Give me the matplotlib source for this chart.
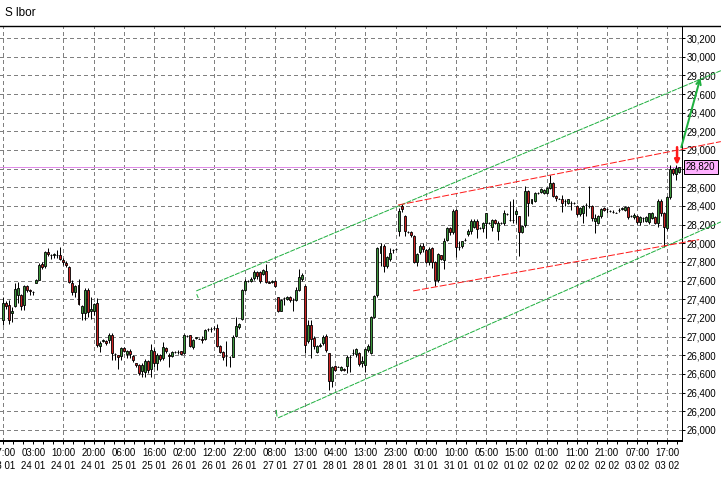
import matplotlib
matplotlib.use("Agg")
import matplotlib.pyplot as plt
import matplotlib.transforms as mtransforms
from matplotlib.lines import Line2D
from matplotlib.ticker import MultipleLocator
import numpy as np

plt.rcParams['font.family'] = ['Liberation Sans', 'DejaVu Sans']

# ---------------- data ----------------
title = "S lbor"

opens = [
    27.18, 27.36, 27.34, 27.25, 27.33, 27.45, 27.45, 27.34, 27.54, 27.50,
    27.48, 27.58, 27.61, 27.78, 27.76, 27.91, 27.88, 27.87, 27.88, 27.87,
    27.82, 27.79, 27.75, 27.58, 27.48, 27.55, 27.25, 27.25, 27.50, 27.27,
    27.27, 27.36, 26.90, 26.95, 26.95, 26.96, 27.02, 26.81, 26.80, 26.79,
    26.88, 26.81, 26.85, 26.79, 26.72, 26.70, 26.63, 26.62, 26.74, 26.65,
    26.85, 26.72, 26.80, 26.77, 26.88, 26.80, 26.79, 26.84, 26.84, 26.85,
    26.82, 27.01, 27.02, 26.89, 26.99, 26.98, 26.97, 26.97, 27.08, 27.08,
    27.09, 27.09, 26.90, 26.84, 26.79, 26.78, 26.78, 27.01, 27.10, 27.19,
    27.50, 27.60, 27.60, 27.63, 27.69, 27.69, 27.67, 27.70, 27.59, 27.59,
    27.60, 27.42, 27.28, 27.41, 27.40, 27.43, 27.39, 27.39, 27.50, 27.62,
    27.54, 26.95, 27.13, 26.99, 26.84, 26.90, 26.93, 27.01, 26.82, 26.53,
    26.69, 26.68, 26.64, 26.65, 26.69, 26.78, 26.83, 26.81, 26.82, 26.72,
    26.70, 26.86, 26.82, 27.21, 27.45, 27.90, 27.97, 27.76, 27.83, 27.93,
    27.94, 28.13, 28.40, 28.29, 28.12, 28.12, 28.08, 27.80, 27.91, 27.97,
    27.93, 27.80, 27.95, 27.80, 27.61, 27.87, 27.82, 28.04, 28.16, 28.12,
    28.36, 27.96, 27.97, 28.04, 28.10, 28.13, 28.17, 28.24, 28.16, 28.16,
    28.22, 28.22, 28.18, 28.25, 28.13, 28.22, 28.22, 28.31, 28.25, 28.25,
    28.31, 28.29, 28.12, 28.20, 28.56, 28.43, 28.45, 28.54, 28.55, 28.54,
    28.54, 28.59, 28.65, 28.51, 28.48, 28.48, 28.45, 28.43, 28.43, 28.43,
    28.40, 28.31, 28.33, 28.41, 28.40, 28.40, 28.24, 28.22, 28.29, 28.38,
    28.37, 28.35, 28.34, 28.33, 28.36, 28.37, 28.36, 28.39, 28.29, 28.28,
    28.29, 28.23, 28.27, 28.24, 28.23, 28.27, 28.28, 28.22, 28.45, 28.32,
    28.16, 28.50, 28.80, 28.74, 28.76,
]
highs = [
    27.43, 27.38, 27.39, 27.32, 27.57, 27.59, 27.46, 27.55, 27.55, 27.51,
    27.49, 27.62, 27.79, 27.80, 27.92, 27.95, 27.89, 27.90, 27.93, 27.96,
    27.84, 27.81, 27.76, 27.61, 27.55, 27.62, 27.34, 27.52, 27.52, 27.43,
    27.36, 27.41, 26.95, 26.97, 26.96, 27.04, 27.04, 26.83, 26.80, 26.89,
    26.89, 26.86, 26.87, 26.80, 26.72, 26.71, 26.72, 26.76, 26.75, 26.92,
    26.88, 26.82, 26.81, 26.94, 26.89, 26.83, 26.85, 26.85, 26.86, 26.85,
    27.03, 27.02, 27.02, 26.97, 27.00, 26.99, 27.01, 27.08, 27.09, 27.10,
    27.11, 27.14, 26.91, 26.85, 26.95, 26.79, 27.02, 27.21, 27.15, 27.51,
    27.62, 27.61, 27.64, 27.71, 27.70, 27.70, 27.73, 27.78, 27.60, 27.61,
    27.61, 27.43, 27.40, 27.43, 27.44, 27.44, 27.41, 27.53, 27.72, 27.68,
    27.55, 27.18, 27.18, 27.01, 26.91, 26.93, 27.02, 27.03, 26.83, 26.69,
    26.70, 26.69, 26.69, 26.66, 26.80, 26.80, 26.87, 26.88, 26.84, 26.79,
    26.88, 26.92, 27.22, 27.45, 27.96, 28.00, 27.99, 27.86, 27.95, 27.94,
    27.95, 28.38, 28.42, 28.30, 28.13, 28.13, 28.09, 27.90, 27.99, 28.00,
    27.94, 27.96, 27.96, 27.81, 27.90, 27.88, 28.06, 28.18, 28.18, 28.37,
    28.37, 28.02, 28.03, 28.06, 28.15, 28.26, 28.26, 28.26, 28.17, 28.23,
    28.33, 28.23, 28.26, 28.26, 28.24, 28.23, 28.36, 28.32, 28.45, 28.47,
    28.37, 28.29, 28.20, 28.61, 28.57, 28.48, 28.55, 28.55, 28.59, 28.58,
    28.60, 28.73, 28.66, 28.52, 28.49, 28.52, 28.47, 28.48, 28.45, 28.44,
    28.41, 28.39, 28.41, 28.43, 28.61, 28.41, 28.31, 28.30, 28.38, 28.39,
    28.38, 28.36, 28.36, 28.34, 28.38, 28.39, 28.40, 28.40, 28.30, 28.32,
    28.30, 28.29, 28.28, 28.29, 28.33, 28.34, 28.29, 28.47, 28.47, 28.34,
    28.51, 28.84, 28.81, 28.84, 28.82,
]
lows = [
    27.12, 27.30, 27.14, 27.16, 27.32, 27.36, 27.29, 27.29, 27.48, 27.45,
    27.45, 27.57, 27.61, 27.73, 27.74, 27.86, 27.83, 27.84, 27.84, 27.82,
    27.77, 27.75, 27.57, 27.45, 27.43, 27.34, 27.18, 27.18, 27.21, 27.19,
    27.23, 26.89, 26.84, 26.94, 26.91, 26.93, 26.75, 26.75, 26.65, 26.75,
    26.84, 26.77, 26.77, 26.73, 26.68, 26.59, 26.57, 26.57, 26.61, 26.57,
    26.68, 26.64, 26.74, 26.75, 26.83, 26.68, 26.78, 26.83, 26.81, 26.80,
    26.81, 27.00, 26.89, 26.87, 26.98, 26.97, 26.93, 26.96, 27.06, 27.05,
    27.07, 26.89, 26.82, 26.75, 26.69, 26.68, 26.78, 27.00, 27.08, 27.18,
    27.49, 27.59, 27.59, 27.61, 27.62, 27.57, 27.66, 27.57, 27.57, 27.58,
    27.53, 27.26, 27.27, 27.34, 27.39, 27.37, 27.28, 27.38, 27.49, 27.60,
    26.82, 26.93, 26.77, 26.87, 26.83, 26.89, 26.91, 26.84, 26.43, 26.46,
    26.63, 26.67, 26.63, 26.63, 26.61, 26.62, 26.80, 26.78, 26.69, 26.68,
    26.62, 26.84, 26.81, 27.20, 27.43, 27.76, 27.69, 27.74, 27.81, 27.90,
    27.93, 28.08, 28.34, 28.08, 28.11, 28.07, 27.79, 27.76, 27.89, 27.91,
    27.79, 27.77, 27.74, 27.54, 27.59, 27.82, 27.72, 28.02, 28.09, 28.10,
    27.85, 27.93, 27.95, 28.02, 28.08, 28.10, 28.16, 28.06, 28.15, 28.12,
    28.06, 28.21, 28.13, 28.21, 28.04, 28.21, 28.20, 28.30, 28.24, 28.22,
    28.22, 27.86, 28.11, 28.18, 28.29, 28.42, 28.44, 28.53, 28.54, 28.53,
    28.53, 28.58, 28.50, 28.45, 28.47, 28.34, 28.40, 28.42, 28.36, 28.42,
    28.29, 28.29, 28.22, 28.29, 28.38, 28.24, 28.11, 28.21, 28.27, 28.35,
    28.33, 28.34, 28.32, 28.32, 28.34, 28.36, 28.35, 28.26, 28.28, 28.26,
    28.21, 28.20, 28.23, 28.23, 28.21, 28.26, 28.21, 28.17, 28.29, 27.96,
    28.14, 28.48, 28.73, 28.68, 28.75,
]
closes = [
    27.36, 27.33, 27.18, 27.28, 27.51, 27.52, 27.33, 27.54, 27.50, 27.49,
    27.48, 27.61, 27.77, 27.75, 27.91, 27.89, 27.88, 27.89, 27.88, 27.83,
    27.80, 27.77, 27.59, 27.48, 27.54, 27.35, 27.33, 27.50, 27.26, 27.30,
    27.35, 26.91, 26.93, 26.96, 26.93, 27.02, 26.82, 26.81, 26.78, 26.88,
    26.85, 26.85, 26.81, 26.75, 26.70, 26.61, 26.70, 26.74, 26.64, 26.86,
    26.72, 26.80, 26.76, 26.89, 26.85, 26.79, 26.84, 26.84, 26.84, 26.81,
    27.02, 27.01, 26.90, 26.96, 27.00, 26.98, 26.96, 27.07, 27.08, 27.08,
    27.09, 26.90, 26.84, 26.78, 26.79, 26.78, 27.00, 27.11, 27.14, 27.50,
    27.60, 27.60, 27.62, 27.69, 27.65, 27.60, 27.71, 27.59, 27.58, 27.60,
    27.54, 27.28, 27.39, 27.41, 27.43, 27.39, 27.39, 27.50, 27.64, 27.66,
    26.91, 27.12, 26.98, 26.90, 26.90, 26.91, 27.00, 26.86, 26.53, 26.68,
    26.64, 26.68, 26.68, 26.64, 26.78, 26.78, 26.83, 26.87, 26.71, 26.74,
    26.87, 26.90, 27.21, 27.44, 27.95, 27.97, 27.76, 27.85, 27.90, 27.93,
    27.94, 28.35, 28.37, 28.13, 28.12, 28.09, 27.80, 27.89, 27.97, 27.94,
    27.80, 27.94, 27.80, 27.61, 27.89, 27.83, 28.03, 28.16, 28.12, 28.35,
    27.96, 27.96, 28.02, 28.04, 28.13, 28.24, 28.24, 28.15, 28.16, 28.22,
    28.32, 28.22, 28.25, 28.22, 28.22, 28.22, 28.32, 28.31, 28.25, 28.25,
    28.35, 28.12, 28.19, 28.56, 28.43, 28.47, 28.54, 28.54, 28.58, 28.57,
    28.59, 28.65, 28.51, 28.49, 28.48, 28.43, 28.45, 28.47, 28.43, 28.43,
    28.31, 28.38, 28.40, 28.41, 28.40, 28.27, 28.27, 28.29, 28.37, 28.36,
    28.37, 28.35, 28.34, 28.33, 28.36, 28.38, 28.39, 28.28, 28.29, 28.30,
    28.23, 28.28, 28.27, 28.28, 28.32, 28.32, 28.22, 28.45, 28.33, 28.18,
    28.50, 28.80, 28.75, 28.81, 28.82,
]

time_labels = ["17:00", "03:00", "10:00", "20:00", "06:00", "16:00", "02:00",
               "12:00", "22:00", "08:00", "13:00", "04:00", "13:00", "23:00",
               "00:00", "10:00", "05:00", "15:00", "01:00", "11:00", "21:00",
               "07:00", "17:00"]
date_labels = ["23 01", "24 01", "24 01", "24 01", "25 01", "25 01", "26 01",
               "26 01", "26 01", "27 01", "27 01", "28 01", "28 01", "28 01",
               "31 01", "31 01", "01 02", "01 02", "02 02", "02 02", "02 02",
               "03 02", "03 02"]
label_bars = [0, 10, 20, 30, 40, 50, 60, 70, 80, 90, 100, 110, 120, 130, 140,
              150, 160, 170, 180, 190, 200, 210, 220]
grid_bars = [0, 20, 30, 40, 50, 60, 70, 80, 90, 100, 110, 120, 130, 140,
             150, 160, 170, 180, 190, 200, 210, 220]

price_levels = [26.0, 26.2, 26.4, 26.6, 26.8, 27.0, 27.2, 27.4, 27.6, 27.8,
                28.0, 28.2, 28.4, 28.6, 28.8, 29.0, 29.2, 29.4, 29.6, 29.8,
                30.0, 30.2]
hidden_level = 28.8

# trend channel objects (bar index, price)
green_upper_x = [64.0, 237.7]
green_upper_y = [27.49, 29.85]
green_upper_tick_x = [64.2, 64.6]
green_upper_tick_y = [27.45, 27.42]
green_lower_x = [91.1, 237.7]
green_lower_y = [26.13, 28.23]
green_lower_tick_x = [90.5, 90.7]
green_lower_tick_y = [26.21, 26.15]
red_upper_x = [130.8, 237.7]
red_upper_y = [28.41, 29.09]
red_lower_x = [135.8, 230.5]
red_lower_y = [27.49, 28.04]
red_arrow_x = [223.2, 223.2]
red_arrow_y = [29.03, 28.84]
green_arrow_x = [224.6, 230.9]
green_arrow_y = [29.03, 29.77]

# ---------------- figure ----------------
PX = 0.72  # points per pixel at dpi 100
W, H = 721, 480
fig = plt.figure(figsize=(W / 100, H / 100), dpi=100)
fig.patch.set_facecolor('white')
ax = fig.add_axes([0, 39 / H, 682 / W, 415 / H])
ax.set_facecolor('white')
ax.set_xlim(-3 / 3.02, 679 / 3.02)
ax.set_ylim(25.882, 30.3286)

grid_kw = dict(color='#808080', lw=PX, ls=(0, (3, 3)), zorder=0.5, antialiased=False)
for v in price_levels:
    ax.axhline(v, **grid_kw)
for b in grid_bars:
    ax.axvline(b, **grid_kw)

# current price line
last = closes[-1]
ax.axhline(last, color='#e08ce8', lw=PX, zorder=1, antialiased=False)

# candles
o = np.array(opens); h = np.array(highs); l = np.array(lows); c = np.array(closes)
xs = np.arange(len(o))
ax.vlines(xs, l, h, color='black', lw=PX, zorder=2)
bull = c >= o
body_colors = np.where(bull, '#3c963c', '#cc2222')
ax.bar(xs, c - o, bottom=o, width=0.66, color=body_colors, edgecolor='black',
       linewidth=0.6, zorder=3)

# channels
gcol = '#20b040'
rcol = '#ff1a1a'
ax.plot(green_upper_x, green_upper_y, color=gcol, lw=PX, ls=(0, (5, 1)), clip_on=False, zorder=4)
ax.plot(green_upper_tick_x, green_upper_tick_y, color=gcol, lw=PX, clip_on=False, zorder=4)
ax.plot(green_lower_x, green_lower_y, color=gcol, lw=PX, ls=(0, (5, 1)), clip_on=False, zorder=4)
ax.plot(green_lower_tick_x, green_lower_tick_y, color=gcol, lw=PX, clip_on=False, zorder=4)
ax.plot(red_upper_x, red_upper_y, color=rcol, lw=PX, ls=(0, (7, 2)), clip_on=False, zorder=4)
ax.plot(red_lower_x, red_lower_y, color=rcol, lw=PX, ls=(0, (7, 2)), clip_on=False, zorder=4)

ax.annotate('', xy=(red_arrow_x[1], red_arrow_y[1]), xytext=(red_arrow_x[0], red_arrow_y[0]),
            arrowprops=dict(arrowstyle='-|>', color=rcol, lw=2.5 * PX, mutation_scale=7,
                            shrinkA=0, shrinkB=0),
            annotation_clip=False, zorder=5)
ax.annotate('', xy=(green_arrow_x[1], green_arrow_y[1]), xytext=(green_arrow_x[0], green_arrow_y[0]),
            arrowprops=dict(arrowstyle='->', color=gcol, lw=2 * PX, mutation_scale=8,
                            shrinkA=0, shrinkB=0),
            annotation_clip=False, zorder=5)

# spines
ax.spines['left'].set_visible(False)
ax.spines['top'].set_visible(False)
ax.spines['right'].set_linewidth(PX)
ax.spines['bottom'].set_linewidth(2 * PX)
fig.add_artist(Line2D([0, 1], [1 - 26 / H, 1 - 26 / H], transform=fig.transFigure,
                      color='black', lw=1.4 * PX))

# y ticks on right
ax.yaxis.tick_right()
ax.set_yticks(price_levels)
ylabels = ['' if abs(v - hidden_level) < 1e-9 else f"{v:.3f}".replace('.', ',') for v in price_levels]
ax.set_yticklabels(ylabels)
ax.tick_params(axis='y', which='major', direction='out', length=3 * PX, width=PX,
               pad=1.2, labelsize=7, colors='black')

# x ticks
ax.set_xticks(label_bars)
ax.set_xticklabels([f"{t}\n{d}" for t, d in zip(time_labels, date_labels)],
                   linespacing=1.35)
ax.xaxis.set_minor_locator(MultipleLocator(10 / 3))
ax.tick_params(axis='x', which='major', direction='out', length=3 * PX, width=PX,
               pad=3, labelsize=7, colors='black')
ax.tick_params(axis='x', which='minor', direction='out', length=3 * PX, width=PX)

# current price label
trans = mtransforms.blended_transform_factory(ax.transAxes, ax.transData)
ax.text(1 + 4 / 682, last, f"{last:.3f}".replace('.', ','), transform=trans,
        ha='left', va='center', fontsize=7, clip_on=False, zorder=6,
        bbox=dict(boxstyle='square,pad=0.22', facecolor='#ffb0ff', edgecolor='black', lw=PX))

fig.text(5 / W, 1 - 13 / H, title, fontsize=8.5, ha='left', va='center')

fig.savefig('out.png', dpi=100)
